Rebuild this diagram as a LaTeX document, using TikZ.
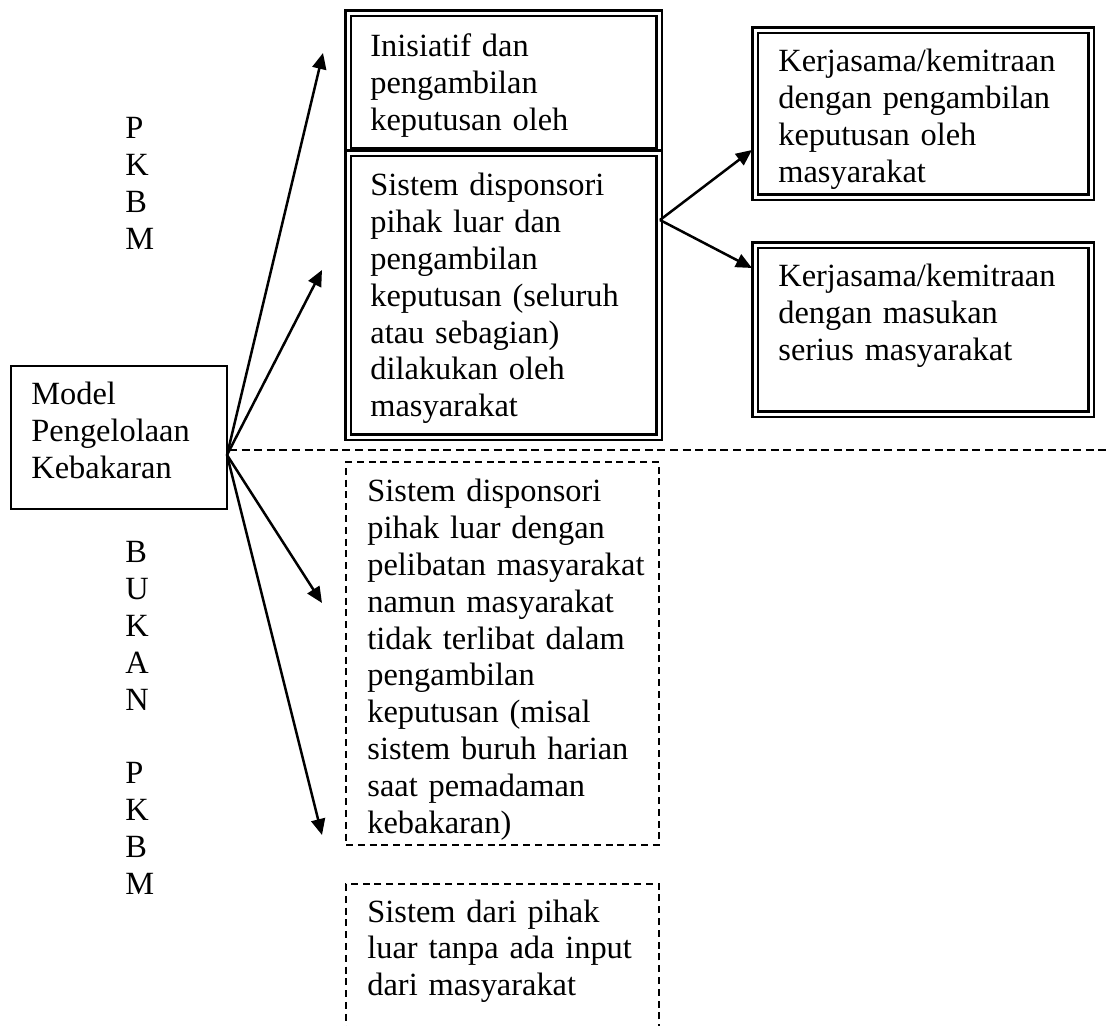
\documentclass[tikz,border=0pt]{standalone}
\usepackage{fontspec}
\setmainfont{Liberation Serif}
\usetikzlibrary{arrows.meta}
\begin{document}
\begin{tikzpicture}[x=0.5pt,y=-0.5pt,
  txt/.style={inner sep=0pt, anchor=base west, text width=200pt, align=left, font=\fontsize{16.2}{18.4}\selectfont},
  dbl/.style={draw, double, line width=1.45pt, double distance=1.1pt, fill=white, inner sep=0pt, anchor=north west},
  sgl/.style={draw, line width=1.1pt, inner sep=0pt, anchor=north west},
  dbox/.style={draw, line width=1pt, dash pattern=on 3.5pt off 2.4pt, inner sep=0pt, anchor=north west},
  arr/.style={line width=1.25pt, -{Triangle[length=8pt,width=7pt]}},
  hdash/.style={line width=1pt, dash pattern=on 4pt off 2.3pt}]
\useasboundingbox (0,0) rectangle (1110,1026);
\clip (0,0) rectangle (1110,1026);

% central box
\node[sgl, minimum width=108pt, minimum height=71.5pt] (model) at (10,365) {};
\node[txt] (modelt) at (31,405) {Model\\Pengelolaan\\Kebakaran};

% side labels
\node[txt] (pkbm) at (125,139) {P\\K\\B\\M};
\node[txt] (bukan) at (125,563) {B\\U\\K\\A\\N\\[0pt]\mbox{}\\P\\K\\B\\M};

% PKBM boxes
\node[dbl, minimum width=155.5pt, minimum height=69pt] (b1) at (347,12) {};
\node[txt] (b1t) at (370,57) {Inisiatif dan\\pengambilan\\keputusan oleh};
\node[dbl, minimum width=155.5pt, minimum height=142pt] (b2) at (347,152) {};
\node[txt] (b2t) at (370,196) {Sistem disponsori\\pihak luar dan\\pengambilan\\keputusan (seluruh\\atau sebagian)\\dilakukan oleh\\masyarakat};

\node[dbl, minimum width=168pt, minimum height=83.5pt] (b3) at (754,29) {};
\node[txt] (b3t) at (778,72) {Kerjasama/kemitraan\\dengan pengambilan\\keputusan oleh\\masyarakat};
\node[dbl, minimum width=168pt, minimum height=84.5pt] (b4) at (754,244) {};
\node[txt] (b4t) at (778,287) {Kerjasama/kemitraan\\dengan masukan\\serius masyarakat};

% non-PKBM boxes
\node[dbox, minimum width=156.5pt, minimum height=191.5pt] (d1) at (345,461) {};
\node[txt] (d1t) at (367,502) {Sistem disponsori\\pihak luar dengan\\pelibatan masyarakat\\namun masyarakat\\tidak terlibat dalam\\pengambilan\\keputusan (misal\\sistem buruh harian\\saat pemadaman\\kebakaran)};
\node[dbox, minimum width=156.5pt, minimum height=100pt] (d2) at (345,883) {};
\node[txt] (d2t) at (367,922) {Sistem dari pihak\\luar tanpa ada input\\dari masyarakat};

% connectors
\coordinate (o) at (227,455);
\coordinate (a1) at (323,53);
\coordinate (a2) at (322,270);
\coordinate (a3) at (322,603);
\coordinate (a4) at (322,835);
\draw[arr] (o) -- (a1);
\draw[arr] (o) -- (a2);
\draw[arr] (o) -- (a3);
\draw[arr] (o) -- (a4);

\coordinate (s2) at (660,220);
\coordinate (e3) at (752,150);
\coordinate (e4) at (752,268);
\draw[arr] (s2) -- (e3);
\draw[arr] (s2) -- (e4);

\coordinate (h0) at (229,450);
\coordinate (h1) at (1110,450);
\draw[hdash] (h0) -- (h1);
\end{tikzpicture}
\end{document}
